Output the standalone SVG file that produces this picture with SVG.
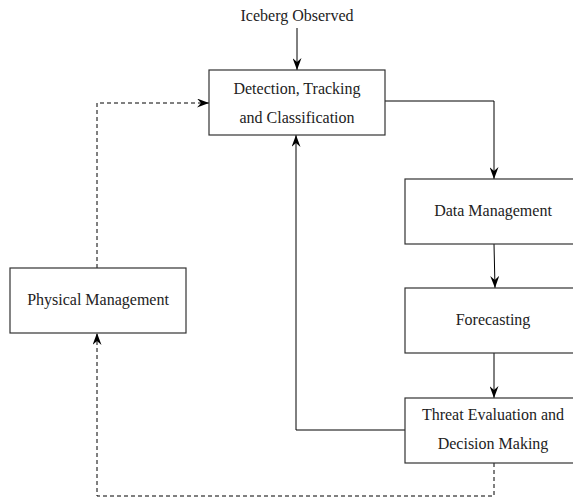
<svg xmlns="http://www.w3.org/2000/svg" width="573" height="498" viewBox="0 0 573 498">
<style>
.box{fill:#fff;stroke:#333;stroke-width:1.2}
.t{font-family:"Liberation Serif","DejaVu Serif",serif;font-size:16px;fill:#222;text-anchor:middle}
.c{fill:none;stroke:#000;stroke-width:1}
.d{fill:none;stroke:#000;stroke-width:1;stroke-dasharray:4,3}
</style>
<defs>
<marker id="ah" viewBox="0 0 12 9" refX="12" refY="4.5" markerWidth="12" markerHeight="9" markerUnits="userSpaceOnUse" orient="auto">
<path d="M0,0 L12,4.5 L0,9 L4,4.5 Z" fill="#000"/>
</marker>
</defs>
<rect width="573" height="498" fill="#fff"/>
<g id="connectors">
<path class="c" d="M297,28 L297,70" marker-end="url(#ah)"/>
<path class="c" d="M385,101 L494,101 L494,179" marker-end="url(#ah)"/>
<path class="c" d="M494,244 L495,288" marker-end="url(#ah)"/>
<path class="c" d="M494,353 L494,398" marker-end="url(#ah)"/>
<path class="c" d="M405,430 L296,430 L296,135" marker-end="url(#ah)"/>
<path class="d" d="M97,268 L97,103 L209,103" marker-end="url(#ah)"/>
<path class="d" d="M494,463 L494,496 L97,496 L97,333" marker-end="url(#ah)"/>
</g>
<g id="iceberg">
<text class="t" x="297" y="21">Iceberg Observed</text>
</g>
<g id="detection">
<rect class="box" x="209" y="70" width="176" height="65"/>
<text class="t" x="297" y="94">Detection, Tracking</text>
<text class="t" x="297" y="123">and Classification</text>
</g>
<g id="data">
<rect class="box" x="405" y="179" width="176" height="65"/>
<text class="t" x="493" y="216">Data Management</text>
</g>
<g id="forecasting">
<rect class="box" x="405" y="288" width="176" height="65"/>
<text class="t" x="493" y="325">Forecasting</text>
</g>
<g id="threat">
<rect class="box" x="405" y="398" width="176" height="65"/>
<text class="t" x="493" y="420">Threat Evaluation and</text>
<text class="t" x="493" y="449">Decision Making</text>
</g>
<g id="physical">
<rect class="box" x="10" y="268" width="176" height="65"/>
<text class="t" x="98" y="305">Physical Management</text>
</g>
</svg>
